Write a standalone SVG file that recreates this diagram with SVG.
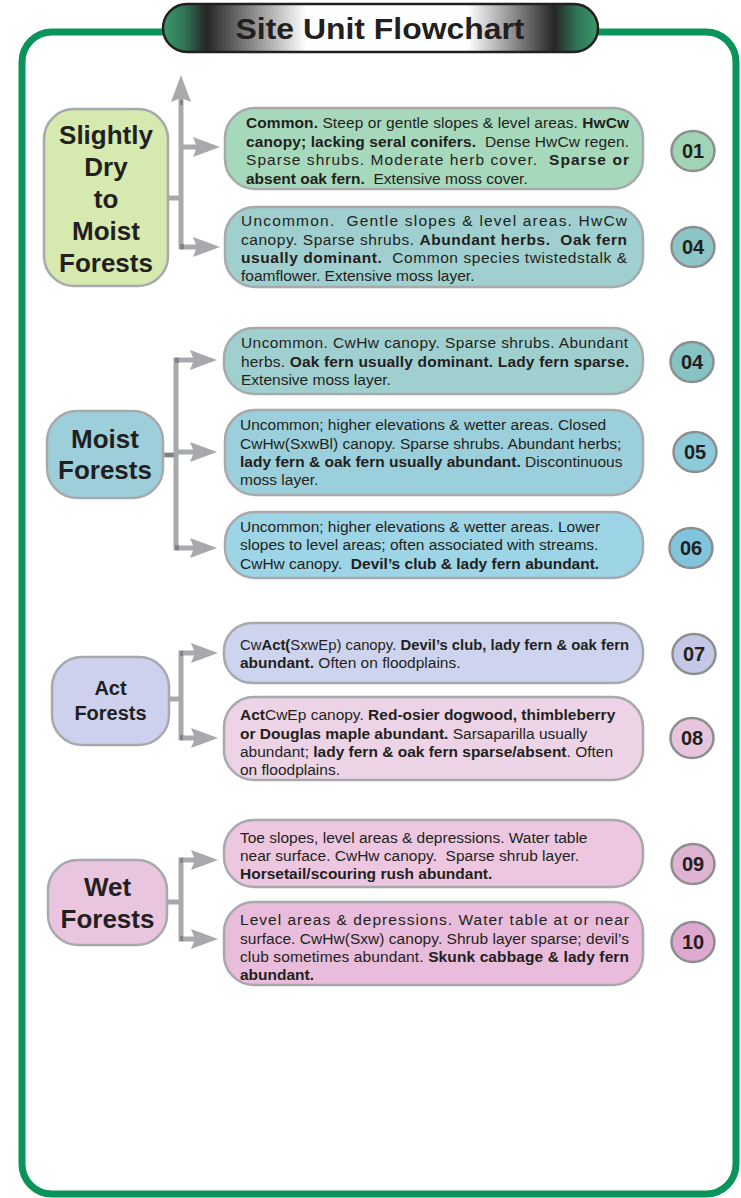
<svg xmlns="http://www.w3.org/2000/svg" width="741" height="1198" viewBox="0 0 741 1198">
  <defs>
    <linearGradient id="pillGrad" x1="0" y1="0" x2="1" y2="0">
      <stop offset="0" stop-color="#3a9a68"/>
      <stop offset="0.05" stop-color="#2f7355"/>
      <stop offset="0.10" stop-color="#262626"/>
      <stop offset="0.33" stop-color="#ffffff"/>
      <stop offset="0.70" stop-color="#ffffff"/>
      <stop offset="0.90" stop-color="#262626"/>
      <stop offset="0.95" stop-color="#2f7355"/>
      <stop offset="1" stop-color="#3a9a68"/>
    </linearGradient>
    <marker id="arrow" viewBox="0 0 27 20" markerWidth="27" markerHeight="20" refX="4" refY="10" markerUnits="userSpaceOnUse" orient="auto">
      <path d="M0,0 L27,10 L0,20 L4,10 Z" fill="#a7a9ac"/>
    </marker>
    <style>
      .box { stroke: #a7a9ac; stroke-width: 2.5; }
      .circ { stroke: #8c8e90; stroke-width: 2.5; }
      .t { font-family: "Liberation Sans", Arial, Helvetica, sans-serif; font-size: 15.5px; fill: #231f20; }
      .b { font-weight: bold; }
      .cat { font-family: "Liberation Sans", Arial, Helvetica, sans-serif; font-weight: bold; font-size: 26px; fill: #231f20; text-anchor: middle; }
      .cat.sm { font-size: 20px; }
      .num { font-family: "Liberation Sans", Arial, Helvetica, sans-serif; font-weight: bold; font-size: 20px; fill: #231f20; text-anchor: middle; }
      .conn { stroke: #a7a9ac; stroke-width: 5; fill: none; }
      .joint { fill: #808285; }
    </style>
  </defs>

  <!-- outer frame -->
  <rect x="22" y="32" width="714" height="1162" rx="30" fill="#ffffff" stroke="#0a935a" stroke-width="7"/>

  <!-- title banner -->
  <g id="title">
    <rect x="163" y="4" width="435" height="48" rx="24" fill="url(#pillGrad)" stroke="#231f20" stroke-width="2.5"/>
    <text x="380" y="39" font-family="Liberation Sans, Arial, sans-serif" font-weight="bold" font-size="29" fill="#231f20" text-anchor="middle" textLength="289" lengthAdjust="spacingAndGlyphs">Site Unit Flowchart</text>
  </g>

  <!-- connectors -->
  <g id="connectors">
    <!-- slightly dry to moist -->
    <path class="conn" d="M168,198 H181"/>
    <path class="conn" d="M181,249.5 V98" marker-end="url(#arrow)"/>
    <path class="conn" d="M181,147 H197" marker-end="url(#arrow)"/>
    <path class="conn" d="M181,247 H197" marker-end="url(#arrow)"/>
    <rect class="joint" x="180" y="100" width="3" height="5"/>
    <rect class="joint" x="180" y="244" width="4" height="5"/>
    <!-- moist -->
    <path class="conn" d="M163,455 H176"/>
    <path class="conn" d="M176,357.5 V550.5"/>
    <path class="conn" d="M176,360 H194" marker-end="url(#arrow)"/>
    <path class="conn" d="M176,452 H194" marker-end="url(#arrow)"/>
    <path class="conn" d="M176,548 H194" marker-end="url(#arrow)"/>
    <rect class="joint" x="175" y="358" width="4" height="5"/>
    <rect class="joint" x="165" y="453" width="9" height="4"/>
    <rect class="joint" x="175" y="545" width="4" height="5"/>
    <!-- act -->
    <path class="conn" d="M169,699 H181"/>
    <path class="conn" d="M181,650.5 V740.5"/>
    <path class="conn" d="M181,653 H195" marker-end="url(#arrow)"/>
    <path class="conn" d="M181,738 H195" marker-end="url(#arrow)"/>
    <rect class="joint" x="180" y="651" width="3" height="5"/>
    <rect class="joint" x="180" y="735" width="3" height="5"/>
    <!-- wet -->
    <path class="conn" d="M167,902 H181"/>
    <path class="conn" d="M181,857.5 V941.5"/>
    <path class="conn" d="M181,860 H195" marker-end="url(#arrow)"/>
    <path class="conn" d="M181,939 H195" marker-end="url(#arrow)"/>
    <rect class="joint" x="180" y="858" width="3" height="5"/>
    <rect class="joint" x="180" y="936" width="3" height="5"/>
  </g>

  <!-- category nodes -->
  <g id="cat-dry-moist">
    <rect class="box" x="44" y="109" width="124" height="177" rx="30" fill="#d6e9ae"/>
    <text class="cat" x="106" y="144">Slightly</text>
    <text class="cat" x="106" y="176">Dry</text>
    <text class="cat" x="106" y="208">to</text>
    <text class="cat" x="106" y="240">Moist</text>
    <text class="cat" x="106" y="272">Forests</text>
  </g>
  <g id="cat-moist">
    <rect class="box" x="47" y="411" width="116" height="87" rx="30" fill="#9dcfdb"/>
    <text class="cat" x="105" y="448">Moist</text>
    <text class="cat" x="105" y="479">Forests</text>
  </g>
  <g id="cat-act">
    <rect class="box" x="52" y="657" width="117" height="88" rx="30" fill="#cdd1ed"/>
    <text class="cat sm" x="110.5" y="695">Act</text>
    <text class="cat sm" x="110.5" y="720">Forests</text>
  </g>
  <g id="cat-wet">
    <rect class="box" x="48" y="860" width="119" height="85" rx="30" fill="#eac5df"/>
    <text class="cat" x="107.5" y="896">Wet</text>
    <text class="cat" x="107.5" y="928">Forests</text>
  </g>

  <!-- site unit 01 -->
  <g id="unit-01">
    <rect class="box" x="225" y="108" width="418" height="81" rx="30" fill="#a6d8bb"/>
    <text class="t" x="246" y="128" textLength="383" lengthAdjust="spacing" xml:space="preserve"><tspan class="b">Common.</tspan> Steep or gentle slopes &amp; level areas. <tspan class="b">HwCw</tspan></text>
    <text class="t" x="246" y="146.5" textLength="383" lengthAdjust="spacing" xml:space="preserve"><tspan class="b">canopy; lacking seral conifers.</tspan>  Dense HwCw regen.</text>
    <text class="t" x="246" y="165" textLength="383" lengthAdjust="spacing" xml:space="preserve">Sparse shrubs. Moderate herb cover.  <tspan class="b">Sparse or</tspan></text>
    <text class="t" x="246" y="183.5" xml:space="preserve"><tspan class="b">absent oak fern.</tspan>  Extensive moss cover.</text>
    <ellipse class="circ" cx="693" cy="151" rx="21.5" ry="20" fill="#a1d4b4"/>
    <text class="num" x="693" y="158">01</text>
  </g>

  <!-- site unit 04 (slightly dry to moist) -->
  <g id="unit-04a">
    <rect class="box" x="225" y="207" width="418" height="80" rx="30" fill="#9fcfcf"/>
    <text class="t" x="241" y="226" textLength="386" lengthAdjust="spacing" xml:space="preserve">Uncommon.  Gentle slopes &amp; level areas. HwCw</text>
    <text class="t" x="241" y="244.5" textLength="386" lengthAdjust="spacing" xml:space="preserve">canopy. Sparse shrubs. <tspan class="b">Abundant herbs.  Oak fern</tspan></text>
    <text class="t" x="241" y="263" textLength="386" lengthAdjust="spacing" xml:space="preserve"><tspan class="b">usually dominant.</tspan>  Common species twistedstalk &amp;</text>
    <text class="t" x="241" y="281">foamflower. Extensive moss layer.</text>
    <ellipse class="circ" cx="693" cy="247" rx="21.5" ry="20" fill="#8cc5c5"/>
    <text class="num" x="693" y="254">04</text>
  </g>

  <!-- site unit 04 (moist) -->
  <g id="unit-04b">
    <rect class="box" x="224" y="328" width="419" height="66" rx="30" fill="#9fcfcf"/>
    <text class="t" x="241" y="348" textLength="387" lengthAdjust="spacing">Uncommon. CwHw canopy. Sparse shrubs. Abundant</text>
    <text class="t" x="241" y="366.5" textLength="388" lengthAdjust="spacing" xml:space="preserve">herbs. <tspan class="b">Oak fern usually dominant. Lady fern sparse.</tspan></text>
    <text class="t" x="241" y="385">Extensive moss layer.</text>
    <ellipse class="circ" cx="692" cy="362" rx="21.5" ry="20" fill="#86c3c3"/>
    <text class="num" x="692" y="369">04</text>
  </g>

  <!-- site unit 05 -->
  <g id="unit-05">
    <rect class="box" x="225" y="410" width="418" height="85" rx="30" fill="#9bcfdb"/>
    <text class="t" x="240" y="430">Uncommon; higher elevations &amp; wetter areas. Closed</text>
    <text class="t" x="240" y="448.5">CwHw(SxwBl) canopy. Sparse shrubs. Abundant herbs;</text>
    <text class="t" x="240" y="467" xml:space="preserve"><tspan class="b">lady fern &amp; oak fern usually abundant.</tspan> Discontinuous</text>
    <text class="t" x="240" y="485">moss layer.</text>
    <ellipse class="circ" cx="695" cy="452" rx="21.5" ry="20" fill="#8ccad9"/>
    <text class="num" x="695" y="459">05</text>
  </g>

  <!-- site unit 06 -->
  <g id="unit-06">
    <rect class="box" x="225" y="512" width="418" height="66" rx="30" fill="#9dd4e6"/>
    <text class="t" x="240" y="531.5">Uncommon; higher elevations &amp; wetter areas. Lower</text>
    <text class="t" x="240" y="550">slopes to level areas; often associated with streams.</text>
    <text class="t" x="240" y="568.5" xml:space="preserve">CwHw canopy.  <tspan class="b">Devil’s club &amp; lady fern abundant.</tspan></text>
    <ellipse class="circ" cx="691" cy="548" rx="21.5" ry="20" fill="#80c4de"/>
    <text class="num" x="691" y="555">06</text>
  </g>

  <!-- site unit 07 -->
  <g id="unit-07">
    <rect class="box" x="224" y="623" width="419" height="60" rx="28" fill="#cfd4ee"/>
    <text class="t" x="240" y="650" textLength="389" lengthAdjust="spacingAndGlyphs" xml:space="preserve">Cw<tspan class="b">Act(</tspan>SxwEp) canopy. <tspan class="b">Devil’s club, lady fern &amp; oak fern</tspan></text>
    <text class="t" x="240" y="668" xml:space="preserve"><tspan class="b">abundant.</tspan> Often on floodplains.</text>
    <ellipse class="circ" cx="694" cy="654" rx="21.5" ry="20" fill="#c4c8e6"/>
    <text class="num" x="694" y="661">07</text>
  </g>

  <!-- site unit 08 -->
  <g id="unit-08">
    <rect class="box" x="224" y="697" width="419" height="83" rx="30" fill="#ecd3e6"/>
    <text class="t" x="240" y="720" xml:space="preserve"><tspan class="b">Act</tspan>CwEp canopy. <tspan class="b">Red-osier dogwood, thimbleberry</tspan></text>
    <text class="t" x="240" y="738.5" xml:space="preserve"><tspan class="b">or Douglas maple abundant.</tspan> Sarsaparilla usually</text>
    <text class="t" x="240" y="757" xml:space="preserve">abundant; <tspan class="b">lady fern &amp; oak fern sparse/absent</tspan>. Often</text>
    <text class="t" x="240" y="775">on floodplains.</text>
    <ellipse class="circ" cx="692" cy="738" rx="21.5" ry="20" fill="#e6c5dd"/>
    <text class="num" x="692" y="745">08</text>
  </g>

  <!-- site unit 09 -->
  <g id="unit-09">
    <rect class="box" x="224" y="820" width="419" height="67" rx="30" fill="#edc7e0"/>
    <text class="t" x="240" y="843">Toe slopes, level areas &amp; depressions. Water table</text>
    <text class="t" x="240" y="861" xml:space="preserve">near surface. CwHw canopy.  Sparse shrub layer.</text>
    <text class="t b" x="240" y="879">Horsetail/scouring rush abundant.</text>
    <ellipse class="circ" cx="693" cy="864" rx="21.5" ry="20" fill="#e0b3d3"/>
    <text class="num" x="693" y="871">09</text>
  </g>

  <!-- site unit 10 -->
  <g id="unit-10">
    <rect class="box" x="224" y="902" width="419" height="83" rx="30" fill="#e8bcda"/>
    <text class="t" x="240" y="925" textLength="389" lengthAdjust="spacing">Level areas &amp; depressions. Water table at or near</text>
    <text class="t" x="240" y="943.5" textLength="389" lengthAdjust="spacing">surface. CwHw(Sxw) canopy. Shrub layer sparse; devil’s</text>
    <text class="t" x="240" y="962" textLength="389" lengthAdjust="spacing" xml:space="preserve">club sometimes abundant. <tspan class="b">Skunk cabbage &amp; lady fern</tspan></text>
    <text class="t b" x="240" y="980">abundant.</text>
    <ellipse class="circ" cx="693" cy="942" rx="21.5" ry="20" fill="#dfa8cf"/>
    <text class="num" x="693" y="949">10</text>
  </g>
</svg>
